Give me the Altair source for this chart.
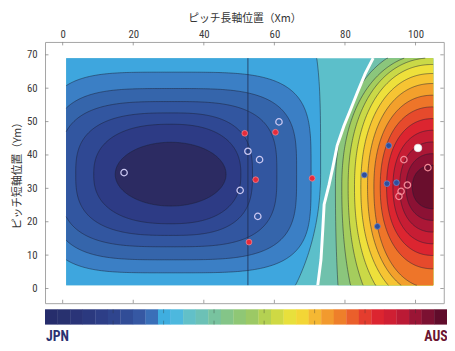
import numpy as np
import pandas as pd
import altair as alt

alt.data_transformers.disable_max_rows()

# ---------------- values ----------------
X_DOMAIN = [-5.0, 108.0]
Y_DOMAIN = [-4.4, 73.85]
PLOT_W, PLOT_H = 406, 266

x_tick_values = [0, 20, 40, 60, 80, 100]
y_tick_values = [0, 10, 20, 30, 40, 50, 60, 70]

field_x = [1.0, 105.0]
field_y = [1.0, 69.0]
halfway_x = [52.5]

# white dividing line (equal-control boundary)
boundary_x = [72.3, 73.2, 73.7, 74.1, 75.5, 76.5, 77.8, 79.7, 81.6, 83.4, 85.7, 88.0]
boundary_y = [1.0, 8.6, 17.4, 25.2, 31.1, 36.0, 42.8, 48.7, 53.6, 58.4, 64.3, 69.0]

# JPN contours (centre, half extents to left/right/up/down, squareness of upper/lower half)
jpn_center = [30.6, 34.2]
jpn_left = [15.7, 21.8, 26.9, 31.5, 34.0, 36.5, 40.0]
jpn_right = [15.7, 19.9, 23.2, 30.1, 35.7, 39.8, 42.5]
jpn_up = [9.6, 15.0, 18.4, 21.8, 25.7, 30.6, 62.0]
jpn_down = [9.5, 14.8, 18.3, 21.7, 25.6, 29.5, 60.0]
jpn_power_up = [2.0, 2.4, 2.8, 3.2, 3.6, 4.0, 4.0]
jpn_power_down = [2.0, 2.4, 2.8, 3.2, 3.6, 4.0, 2.0]
jpn_colors = ["#2c2b62", "#2d3b85", "#2f4893", "#3256a0", "#3565ab", "#3b7fc5", "#3ea6de"]
jpn_outer_color = "#5cbfca"

# AUS contours
aus_center = [105.0, 30.4]
aus_left = [5.9, 7.7, 9.5, 11.4, 13.2, 15.0, 16.8, 18.6, 20.5, 22.3, 24.1, 25.9, 27.7]
aus_up = [6.5, 10.0, 13.5, 17.0, 20.5, 24.0, 27.5, 31.0, 34.0, 36.7, 38.7, 40.1, 42.5]
aus_down = [6.5, 10.0, 13.5, 17.0, 20.5, 24.5, 30.3, 32.7, 35.8, 40.5, 47.7, 61.5, 109.0]
aus_power = [2.2] * 13
aus_colors = ["#6a0e2d", "#8c1134", "#ab1736", "#c71d34", "#dc2530", "#e64a2c", "#ee7529",
              "#f3a02c", "#f6c433", "#eee03b", "#cad947", "#a5cd5d", "#8bc67c"]
aus_outer_color = "#70c1ac"

# players
aus_filled_x = [51.6, 60.3, 54.7, 70.7, 52.8]
aus_filled_y = [46.5, 46.8, 32.6, 33.0, 13.9]
aus_open_x = [96.7, 103.5, 97.7, 95.9, 95.3]
aus_open_y = [38.6, 36.2, 31.0, 29.1, 27.6]
jpn_filled_x = [92.4, 85.5, 91.9, 94.6, 89.2]
jpn_filled_y = [42.8, 34.0, 31.4, 31.7, 18.6]
jpn_open_x = [17.4, 61.3, 52.5, 55.8, 50.3, 55.3]
jpn_open_y = [34.7, 49.9, 41.1, 38.6, 29.4, 21.6]
ball_x = [100.7]
ball_y = [42.1]

# colour bar (JPN -> AUS)
colorbar_colors = ["#262d6c", "#28316f", "#2a3478", "#2b397f", "#2d3e87", "#2f458e", "#314d97",
                   "#3658a3", "#3a6fb8", "#3faee0", "#4db8de", "#62c0c8", "#6cc1b6", "#78c39f",
                   "#84c588", "#8fc775", "#9cc965", "#b4d152", "#cfd944", "#e8e03c", "#f3d636",
                   "#f5b833", "#f29a2e", "#ee7f2a", "#ea5f2b", "#e43d2e", "#dc2530", "#cf1f33",
                   "#bb1a35", "#9a1535", "#7c1132", "#600c2b"]
colorbar_tick_values = [14.3, 28.6, 42.9, 57.1, 71.4, 85.7, 100.0]
colorbar_labels = ["JPN", "AUS"]
colorbar_label_colors = ["#2b3270", "#6b1530"]

NUM_FONT = "Liberation Sans Narrow, Roboto Condensed, Arial Narrow, Roboto, sans-serif"
CJK_FONT = "Noto Sans CJK JP"

# ---------------- geometry of contour bands ----------------
def wl_y(x):
    return np.interp(x, boundary_x, boundary_y, left=-1e3, right=1e3)


def extend(ok):
    e = ok.copy()
    e[1:] |= ok[:-1]
    e[:-1] |= ok[1:]
    return e


area_rows = []
line_rows = []
seg_counter = [0]


def add_contour(cid, cx, cy, left, right, up, down, p_up, p_down, side, n=220):
    t = -np.cos(np.linspace(0, np.pi, n))
    t_lo = max(-1.0, (field_x[0] - cx) / left)
    t_hi = min(1.0, (field_x[1] - cx) / right)
    t = np.concatenate([[t_lo], t[(t > t_lo) & (t < t_hi)], [t_hi]])
    x = cx + np.where(t < 0, t * left, t * right)
    f_up = np.clip(1 - np.abs(t) ** p_up, 0, 1) ** (1 / p_up)
    f_dn = np.clip(1 - np.abs(t) ** p_down, 0, 1) ** (1 / p_down)
    top = cy + up * f_up
    bot = cy - down * f_dn
    wl = wl_y(x)
    if side == "JPN":
        ok_top = top > wl
        ok_bot = bot > wl
        top_c = top.copy()
        bot_c = np.maximum(bot, wl)
    else:
        ok_top = top < wl
        ok_bot = bot < wl
        top_c = np.minimum(top, wl)
        bot_c = bot.copy()
    ok_top &= (top >= field_y[0]) & (top <= field_y[1])
    ok_bot &= (bot >= field_y[0]) & (bot <= field_y[1])
    top_c = np.clip(top_c, field_y[0], field_y[1])
    bot_c = np.clip(bot_c, field_y[0], field_y[1])
    bot_c = np.minimum(bot_c, top_c)
    for xi, a, b in zip(x, top_c, bot_c):
        area_rows.append({"cid": cid, "x": float(xi), "top": float(a), "bot": float(b)})
    xs = np.concatenate([x, x[::-1]])
    ys = np.concatenate([top_c, bot_c[::-1]])
    oks = np.concatenate([extend(ok_top), extend(ok_bot)[::-1]])
    brk = np.zeros(len(xs), bool)
    if t_hi < 1:
        brk[len(x)] = True
    new_seg = True
    for i in range(len(xs)):
        if not oks[i]:
            new_seg = True
            continue
        if new_seg or brk[i]:
            seg_counter[0] += 1
            new_seg = False
        line_rows.append({"seg": seg_counter[0], "ord": i, "x": float(xs[i]), "y": float(ys[i])})


for k in range(len(aus_left)):
    add_contour("A%d" % k, aus_center[0], aus_center[1], aus_left[k], aus_left[k],
                aus_up[k], aus_down[k], aus_power[k], aus_power[k], "AUS")
for k in range(len(jpn_left)):
    add_contour("J%d" % k, jpn_center[0], jpn_center[1], jpn_left[k], jpn_right[k],
                jpn_up[k], jpn_down[k], jpn_power_up[k], jpn_power_down[k], "JPN")

area_df = pd.DataFrame(area_rows)
line_df = pd.DataFrame(line_rows)

x_axis = alt.Axis(orient="top", values=x_tick_values, title="ピッチ長軸位置（Xm）", ticks=False, tickSize=0,
                  domain=False, grid=False, labelFont=NUM_FONT, labelFontSize=11, labelColor="#3a3a3a",
                  labelPadding=3, titleFont=CJK_FONT, titleFontSize=11, titleFontWeight="normal",
                  titleColor="#333333", titlePadding=5)
y_axis = alt.Axis(orient="left", values=y_tick_values, title="ピッチ短軸位置（Ym）", ticks=False, tickSize=0,
                  domain=False, grid=False, labelFont=NUM_FONT, labelFontSize=11, labelColor="#3a3a3a",
                  labelPadding=8, titleFont=CJK_FONT, titleFontSize=11, titleFontWeight="normal",
                  titleColor="#333333", titlePadding=4)


def X(field):
    return alt.X(field, type="quantitative", scale=alt.Scale(domain=X_DOMAIN, nice=False, zero=False), axis=x_axis)


def Y(field):
    return alt.Y(field, type="quantitative", scale=alt.Scale(domain=Y_DOMAIN, nice=False, zero=False), axis=y_axis)


layers = []

# field background (JPN outer band)
field_df = pd.DataFrame({"x0": [field_x[0]], "x1": [field_x[1]], "y0": [field_y[0]], "y1": [field_y[1]]})
layers.append(alt.Chart(field_df).mark_rect(color=jpn_outer_color).encode(
    x=X("x0"), x2="x1", y=Y("y0"), y2="y1"))

# AUS outer band right of the white line
bnd_df = pd.DataFrame({"bx": boundary_x, "by": boundary_y, "bx2": [field_x[1]] * len(boundary_x)})
layers.append(alt.Chart(bnd_df).mark_area(orient="horizontal", color=aus_outer_color).encode(
    y=Y("by"), x=X("bx"), x2="bx2"))

# contour bands: outer first
for k in reversed(range(len(aus_left))):
    layers.append(alt.Chart(area_df).transform_filter(alt.datum.cid == "A%d" % k)
                  .mark_area(orient="vertical", color=aus_colors[k])
                  .encode(x=X("x"), y=Y("top"), y2="bot"))
for k in reversed(range(len(jpn_left))):
    layers.append(alt.Chart(area_df).transform_filter(alt.datum.cid == "J%d" % k)
                  .mark_area(orient="vertical", color=jpn_colors[k])
                  .encode(x=X("x"), y=Y("top"), y2="bot"))

# contour lines
layers.append(alt.Chart(line_df).mark_line(color="#1c2033", strokeWidth=0.7, opacity=0.7).encode(
    x=X("x"), y=Y("y"), detail="seg:N", order="ord:Q"))

# halfway line
half_df = pd.DataFrame({"x": halfway_x, "y0": [field_y[0]], "y1": [field_y[1]]})
layers.append(alt.Chart(half_df).mark_rule(color="#1d2a4a", strokeWidth=0.9, opacity=0.85).encode(
    x=X("x"), y=Y("y0"), y2="y1"))

# white boundary line
layers.append(alt.Chart(bnd_df).mark_line(color="white", strokeWidth=3).encode(
    x=X("bx"), y=Y("by"), order="by:Q"))

# players
def pts(xs, ys):
    return pd.DataFrame({"px": xs, "py": ys})

layers.append(alt.Chart(pts(jpn_open_x, jpn_open_y)).mark_point(
    filled=False, size=42, stroke="#cbc8f2", strokeWidth=1.3, opacity=1).encode(x=X("px"), y=Y("py")))
layers.append(alt.Chart(pts(aus_open_x, aus_open_y)).mark_point(
    filled=False, size=42, stroke="#f28a97", strokeWidth=1.3, opacity=1).encode(x=X("px"), y=Y("py")))
layers.append(alt.Chart(pts(aus_filled_x, aus_filled_y)).mark_point(
    filled=True, size=34, fill="#e62b3b", stroke="#f2838d", strokeWidth=0.8, opacity=1).encode(x=X("px"), y=Y("py")))
layers.append(alt.Chart(pts(jpn_filled_x, jpn_filled_y)).mark_point(
    filled=True, size=34, fill="#2d4f9e", stroke="#7188c6", strokeWidth=0.8, opacity=1).encode(x=X("px"), y=Y("py")))
layers.append(alt.Chart(pts(ball_x, ball_y)).mark_point(
    filled=True, size=60, fill="white", stroke="#e6e6e6", strokeWidth=0.8, opacity=1).encode(x=X("px"), y=Y("py")))

# inside ticks
xt_df = pd.DataFrame({"v": x_tick_values})
yt_df = pd.DataFrame({"v": y_tick_values})
TICK = 3.5
tick_style = dict(color="#8a8a8a", strokeWidth=0.8)
layers.append(alt.Chart(xt_df).mark_rule(**tick_style).encode(x=X("v"), y=alt.value(0), y2=alt.value(TICK)))
layers.append(alt.Chart(xt_df).mark_rule(**tick_style).encode(x=X("v"), y=alt.value(PLOT_H - TICK), y2=alt.value(PLOT_H)))
layers.append(alt.Chart(yt_df).mark_rule(**tick_style).encode(y=Y("v"), x=alt.value(0), x2=alt.value(TICK)))
layers.append(alt.Chart(yt_df).mark_rule(**tick_style).encode(y=Y("v"), x=alt.value(PLOT_W - TICK), x2=alt.value(PLOT_W)))

# colour bar
CB_TOP, CB_BOT = 272.2, 287.8
CB_SPAN_PX = 409.0
n_cb = len(colorbar_colors)
cb_step = (X_DOMAIN[1] - X_DOMAIN[0]) * (CB_SPAN_PX / PLOT_W) / n_cb
cb_df = pd.DataFrame({
    "x0": X_DOMAIN[0] + np.arange(n_cb) * cb_step,
    "x1": X_DOMAIN[0] + (np.arange(n_cb) + 1) * cb_step + 0.08,
    "c": colorbar_colors,
})
layers.append(alt.Chart(cb_df).mark_rect(strokeWidth=0).encode(
    x=X("x0"), x2="x1", y=alt.value(CB_TOP), y2=alt.value(CB_BOT), color=alt.Color("c:N", scale=None)))
cbt_df = pd.DataFrame({"v": colorbar_tick_values})
layers.append(alt.Chart(cbt_df).mark_rule(color="#333333", strokeWidth=0.8, opacity=0.45).encode(
    x=X("v"), y=alt.value(CB_TOP), y2=alt.value(CB_TOP + 4)))
layers.append(alt.Chart(cbt_df).mark_rule(color="#333333", strokeWidth=0.8, opacity=0.45).encode(
    x=X("v"), y=alt.value(CB_BOT - 4), y2=alt.value(CB_BOT)))

layers.append(alt.Chart(pd.DataFrame({"t": [colorbar_labels[0]]})).mark_text(
    align="left", baseline="middle", font=NUM_FONT, fontSize=14, fontWeight="bold",
    color=colorbar_label_colors[0]).encode(text="t:N", x=alt.value(1), y=alt.value(300.5)))
layers.append(alt.Chart(pd.DataFrame({"t": [colorbar_labels[1]]})).mark_text(
    align="right", baseline="middle", font=NUM_FONT, fontSize=14, fontWeight="bold",
    color=colorbar_label_colors[1]).encode(text="t:N", x=alt.value(CB_SPAN_PX + 1), y=alt.value(300.5)))

chart = alt.layer(*layers).properties(
    width=PLOT_W, height=PLOT_H,
    autosize=alt.AutoSizeParams(type="none"),
    padding={"left": 37.7, "top": 31.5, "right": 3.3, "bottom": 40},
    background="white",
).configure_view(stroke="#a3a3a3", strokeWidth=1)

chart.save("out.html", embed_options={"renderer": "svg", "actions": False})
